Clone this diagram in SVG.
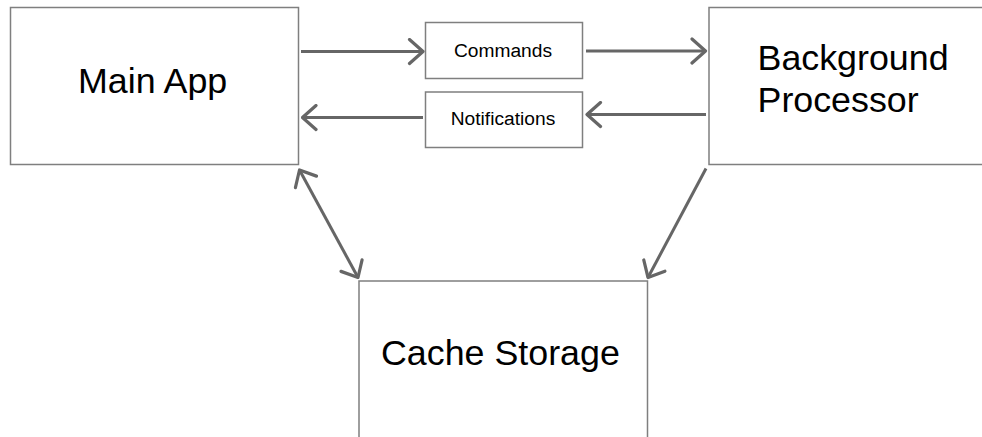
<svg xmlns="http://www.w3.org/2000/svg" width="982" height="437" viewBox="0 0 982 437">
  <style>
    .box { fill: #ffffff; stroke: #7f7f7f; stroke-width: 1.5; }
    .big { font-family: "Liberation Sans", Arial, sans-serif; font-size: 35.8px; fill: #000000; }
    .small { font-family: "Liberation Sans", Arial, sans-serif; font-size: 19.2px; fill: #000000; text-anchor: middle; }
    .link { fill: none; stroke: #666666; stroke-width: 3; }
  </style>
  <defs>
    <marker id="chevron" markerUnits="userSpaceOnUse" viewBox="-16 -14 18 28" refX="0" refY="0" markerWidth="18" markerHeight="28" orient="auto-start-reverse">
      <path d="M -13.5 -12 L 0 0 L -13.5 12" fill="none" stroke="#666666" stroke-width="3.2" stroke-linejoin="round" stroke-linecap="round"/>
    </marker>
  </defs>
  <rect width="982" height="437" fill="#ffffff"/>

  <g id="main-app">
    <rect class="box" x="10.5" y="7.5" width="288" height="157"/>
    <text class="big" x="78" y="93">Main App</text>
  </g>

  <g id="background-processor">
    <rect class="box" x="709" y="7.5" width="290" height="157"/>
    <text class="big" x="757.5" y="70">Background</text>
    <text class="big" x="757.5" y="111.5">Processor</text>
  </g>

  <g id="cache-storage">
    <rect class="box" x="359" y="281" width="288.5" height="170"/>
    <text class="big" x="381" y="365">Cache Storage</text>
  </g>

  <g id="commands">
    <rect class="box" x="425.5" y="22.5" width="157" height="56"/>
    <text class="small" x="503" y="56.5">Commands</text>
  </g>

  <g id="notifications">
    <rect class="box" x="425.5" y="92" width="157" height="55.5"/>
    <text class="small" x="503" y="125">Notifications</text>
  </g>

  <g id="connectors">
    <line class="link" x1="301" y1="51.5" x2="423" y2="51.5" marker-end="url(#chevron)"/>
    <line class="link" x1="586" y1="51" x2="705.5" y2="51" marker-end="url(#chevron)"/>
    <line class="link" x1="706" y1="114.5" x2="587" y2="114.5" marker-end="url(#chevron)"/>
    <line class="link" x1="423" y1="117.5" x2="302.5" y2="117.5" marker-end="url(#chevron)"/>
    <line class="link" x1="299.5" y1="170" x2="358" y2="277.5" marker-start="url(#chevron)" marker-end="url(#chevron)"/>
    <line class="link" x1="706" y1="168.5" x2="648" y2="277.5" marker-end="url(#chevron)"/>
  </g>
</svg>
